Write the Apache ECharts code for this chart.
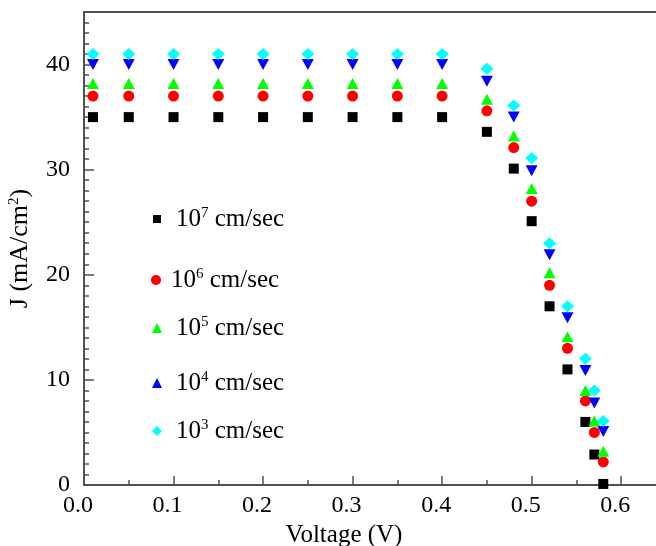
<!DOCTYPE html>
<html>
<head>
<meta charset="utf-8">
<script src="https://cdn.jsdelivr.net/npm/echarts@6/dist/echarts.min.js"></script>
<style>
  html, body { margin: 0; padding: 0; background: #fff; }
  #chart { width: 656px; height: 546px; }
</style>
</head>
<body>
<div id="chart"></div>
<script>
// Bias voltage (V) at which J is sampled
const voltage = [0.01, 0.05, 0.1, 0.15, 0.2, 0.25, 0.3, 0.35, 0.4, 0.45, 0.48, 0.5, 0.52, 0.54, 0.56, 0.57, 0.58];

// Current density J (mA/cm^2) for each surface recombination velocity
const j1e7 = [35, 35, 35, 35, 35, 35, 35, 35, 35, 33.6, 30.1, 25.1, 17.0, 11.0, 6.0, 2.9, 0.1];
const j1e6 = [37, 37, 37, 37, 37, 37, 37, 37, 37, 35.6, 32.1, 27.0, 19.0, 13.0, 8.0, 5.0, 2.2];
const j1e5 = [38.2, 38.2, 38.2, 38.2, 38.2, 38.2, 38.2, 38.2, 38.2, 36.7, 33.2, 28.2, 20.2, 14.1, 9.0, 6.1, 3.2];
const j1e4 = [40, 40, 40, 40, 40, 40, 40, 40, 40, 38.4, 35.0, 29.9, 21.9, 15.9, 10.9, 7.8, 5.1];
const j1e3 = [41, 41, 41, 41, 41, 41, 41, 41, 41, 39.6, 36.1, 31.1, 23.0, 17.0, 12.0, 9.0, 6.1];

// Legend names and exponents of the velocity
const seriesNames = ['1e7', '1e6', '1e5', '1e4', '1e3'];
const exponents = ['7', '6', '5', '4', '3'];

const serif = '"Liberation Serif", "Times New Roman", serif';
const axisGrey = '#505050';

function pairs(ys) {
  return voltage.map((v, i) => [v, ys[i]]);
}

const richText = {
  b: { fontSize: 25, fontFamily: serif, color: '#000', lineHeight: 26 },
  s: { fontSize: 15, fontFamily: serif, color: '#000', lineHeight: 18, verticalAlign: 'top' }
};

function legendFor(idx, left, top, size, gap) {
  return {
    data: [seriesNames[idx]],
    left: left,
    top: top,
    padding: 0,
    itemWidth: size,
    itemHeight: size,
    selectedMode: false,
    formatter: () => '{b|10}{s|' + exponents[idx] + '}{b| cm/sec}',
    textStyle: { rich: richText, padding: [0, 0, 0, gap] }
  };
}

const chart = echarts.init(document.getElementById('chart'));

chart.setOption({
  animation: false,
  backgroundColor: '#fff',
  grid: { left: 84, top: 12, width: 573, height: 473, containLabel: false, outerBoundsMode: 'none' },
  xAxis: [{
    type: 'value',
    min: 0,
    max: 0.64,
    interval: 0.1,
    axisLine: { lineStyle: { color: axisGrey, width: 2 } },
    axisTick: { inside: true, length: 9, lineStyle: { color: axisGrey, width: 1.5 } },
    minorTick: { show: true, splitNumber: 2, length: 5, lineStyle: { color: axisGrey, width: 1.5 } },
    splitLine: { show: false },
    axisLabel: {
      margin: 9,
      fontSize: 24,
      fontFamily: serif,
      color: '#000',
      padding: [0, 12, 0, 0],
      formatter: v => {
        const r = Math.round(v * 10);
        return Math.abs(v * 10 - r) < 1e-6 ? (r / 10).toFixed(1) : '';
      }
    }
  }, {
    type: 'value',
    position: 'top',
    min: 0,
    max: 0.64,
    axisLine: { lineStyle: { color: axisGrey, width: 2 } },
    axisTick: { show: false },
    axisLabel: { show: false },
    splitLine: { show: false }
  }],
  yAxis: {
    type: 'value',
    min: 0,
    max: 45,
    interval: 10,
    name: 'J (mA/cm{s|2})',
    nameLocation: 'middle',
    nameRotate: 90,
    nameGap: 51,
    nameTextStyle: {
      rich: {
        b: { fontSize: 26, fontFamily: serif, color: '#000' },
        s: { fontSize: 15, fontFamily: serif, color: '#000', lineHeight: 18, verticalAlign: 'top' }
      },
      fontSize: 26,
      fontFamily: serif,
      color: '#000'
    },
    axisLine: { lineStyle: { color: axisGrey, width: 2 } },
    axisTick: { inside: true, length: 10, lineStyle: { color: axisGrey, width: 1.5 } },
    minorTick: { show: true, splitNumber: 10, length: 5, lineStyle: { color: axisGrey, width: 1.5 } },
    splitLine: { show: false },
    axisLabel: {
      margin: 14,
      fontSize: 24,
      fontFamily: serif,
      color: '#000',
      padding: [0, 0, 9, 0],
      showMaxLabel: false,
      formatter: v => (v % 10 === 0 ? String(v) : '')
    }
  },
  legend: [
    legendFor(0, 153, 206, 8, 10),
    legendFor(1, 151, 267, 10, 5),
    legendFor(2, 152, 315, 10, 9),
    legendFor(3, 152, 370, 10, 9),
    legendFor(4, 152, 418, 10, 9)
  ],
  graphic: [{
    type: 'text',
    x: 344,
    y: 535,
    style: {
      text: 'Voltage (V)',
      font: '25px ' + serif,
      fill: '#000',
      textAlign: 'center',
      textVerticalAlign: 'middle'
    }
  }],
  series: [
    { name: '1e7', type: 'scatter', data: pairs(j1e7), symbol: 'rect', symbolSize: 10,
      itemStyle: { color: '#000000', opacity: 1 } },
    { name: '1e6', type: 'scatter', data: pairs(j1e6), symbol: 'circle', symbolSize: 11,
      itemStyle: { color: '#ff0000', opacity: 1 } },
    { name: '1e5', type: 'scatter', data: pairs(j1e5), symbol: 'triangle', symbolSize: [12, 11],
      itemStyle: { color: '#00ff00', opacity: 1 } },
    { name: '1e4', type: 'scatter', data: pairs(j1e4), symbol: 'triangle', symbolRotate: 180, symbolSize: [12, 11],
      itemStyle: { color: '#0000ff', opacity: 1 } },
    { name: '1e3', type: 'scatter', data: pairs(j1e3), symbol: 'diamond', symbolSize: [13, 12],
      itemStyle: { color: '#00ffff', opacity: 1 } }
  ]
});
</script>
</body>
</html>
